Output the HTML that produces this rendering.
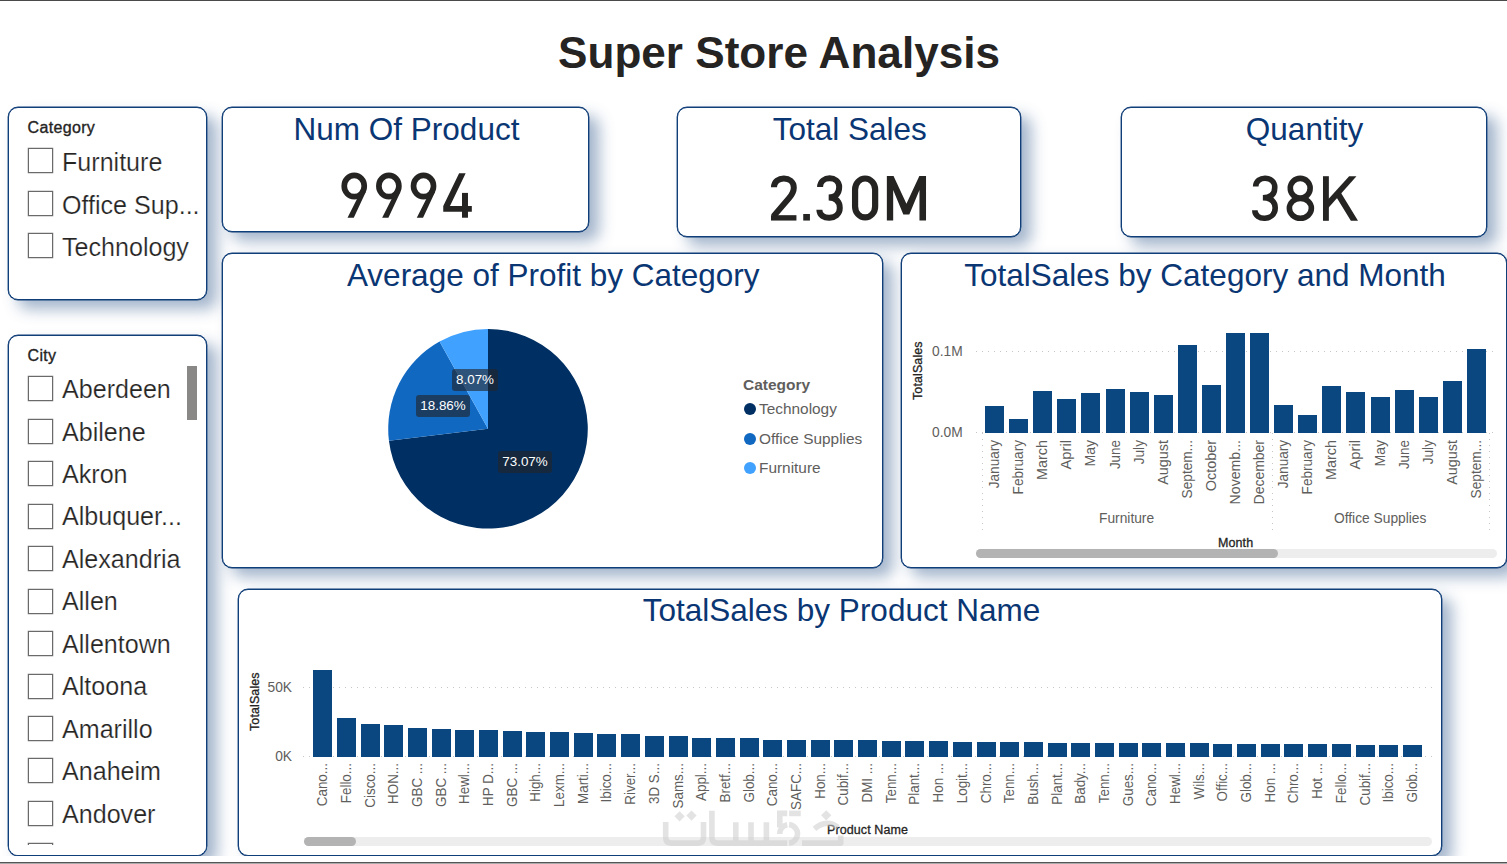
<!DOCTYPE html>
<html><head><meta charset="utf-8"><title>Super Store Analysis</title>
<style>
*{box-sizing:border-box;margin:0;padding:0}
html,body{width:1507px;height:864px;overflow:hidden;background:#fff;font-family:"Liberation Sans",sans-serif;}
#page{position:absolute;left:0;top:0;width:1507px;height:856px;overflow:hidden;background:#fff}
.topline{position:absolute;left:0;top:0;width:1507px;height:1px;background:#4a4a4a}
.botline{position:absolute;left:0;top:862px;width:1507px;height:1px;background:#555}
.botline2{position:absolute;left:0;top:863px;width:1507px;height:1px;background:#aaa}
.panel{position:absolute;background:#fff;border:1px solid #103e78;border-radius:10px;box-shadow:0 0 0 0.4px #103e78,10px 9px 15px rgba(28,74,128,0.41)}
.ttl{position:absolute;white-space:nowrap;color:#0a3673;font-size:31.5px;line-height:36px;text-align:center;left:0;right:0}
.big{position:absolute;white-space:nowrap;color:#252423;font-size:64.6px;line-height:64px;text-align:center;left:0;right:0;transform-origin:50% 50%}
.hdr{position:absolute;white-space:nowrap;color:#252423;font-size:16px;line-height:18px;-webkit-text-stroke:0.35px #252423;letter-spacing:0.35px}
.cb{position:absolute;left:18.6px;width:25.2px;height:25px;border:1px solid #6a6a6a;background:#fff;box-shadow:0 0 0 .3px #8a8a8a}
.it{position:absolute;left:53.2px;-webkit-text-stroke:0.22px #fff;white-space:nowrap;color:#252423;font-size:25.4px;line-height:28px;transform-origin:0 50%;transform:scaleX(0.988)}
.bar{position:absolute;background:#0a4680}
.grid{position:absolute;height:1px;background-image:linear-gradient(to right,#c8c6c4 1px,transparent 1px);background-size:6px 1px}
.vdot{position:absolute;width:1px;background-image:linear-gradient(to bottom,#c8c6c4 1px,transparent 1px);background-size:1px 6px}
.ax{position:absolute;white-space:nowrap;color:#605e5c;font-size:14.5px;line-height:16px;transform-origin:0 50%;transform:scaleX(0.95)}
.rot{position:absolute;white-space:nowrap;color:#605e5c;font-size:14.5px;line-height:16px;transform-origin:0 0;transform:rotate(-90deg)}
.axt{position:absolute;white-space:nowrap;color:#252423;font-size:12.5px;line-height:14px;-webkit-text-stroke:0.3px #252423;letter-spacing:0.1px}
.track{position:absolute;height:9px;border-radius:5px;background:#ededed}
.thumb{position:absolute;height:9px;border-radius:5px;background:#b3b3b3}
.lbl{position:absolute;height:22px;border-radius:3px;background:rgba(35,35,40,0.62);color:#fff;font-size:13.4px;line-height:21px;text-align:center}
.dot{position:absolute;width:12px;height:12px;border-radius:50%}
.leg{position:absolute;white-space:nowrap;color:#605e5c;font-size:15.4px;line-height:18px}
</style></head>
<body>
<div id="page">
<div style="position:absolute;left:0;width:1558px;top:28px;text-align:center;font-weight:bold;font-size:44.1px;line-height:50px;color:#252423;white-space:nowrap">Super Store Analysis</div>
<div class="panel" style="left:8px;top:107px;width:199px;height:193px">
<div class="hdr" style="left:18.5px;top:11px">Category</div>
<div class="cb" style="top:40.0px"></div><div class="it" style="top:40.2px">Furniture</div>
<div class="cb" style="top:82.5px"></div><div class="it" style="top:82.7px">Office Sup...</div>
<div class="cb" style="top:125.0px"></div><div class="it" style="top:125.2px">Technology</div>
</div>
<div class="panel" style="left:8px;top:335px;width:199px;height:521px;overflow:hidden">
<div class="hdr" style="left:18.5px;top:11px">City</div>
<div class="cb" style="top:40.2px"></div><div class="it" style="top:39.0px">Aberdeen</div>
<div class="cb" style="top:82.7px"></div><div class="it" style="top:81.5px">Abilene</div>
<div class="cb" style="top:125.1px"></div><div class="it" style="top:123.9px">Akron</div>
<div class="cb" style="top:167.6px"></div><div class="it" style="top:166.4px">Albuquer...</div>
<div class="cb" style="top:210.1px"></div><div class="it" style="top:208.9px">Alexandria</div>
<div class="cb" style="top:252.5px"></div><div class="it" style="top:251.3px">Allen</div>
<div class="cb" style="top:295.0px"></div><div class="it" style="top:293.8px">Allentown</div>
<div class="cb" style="top:337.5px"></div><div class="it" style="top:336.3px">Altoona</div>
<div class="cb" style="top:380.0px"></div><div class="it" style="top:378.8px">Amarillo</div>
<div class="cb" style="top:422.4px"></div><div class="it" style="top:421.2px">Anaheim</div>
<div class="cb" style="top:464.9px"></div><div class="it" style="top:463.7px">Andover</div>
<div class="cb" style="top:507.4px"></div><div class="it" style="top:506.2px"></div>
<div style="position:absolute;left:0;top:509px;width:197px;height:12px;background:#fff"></div>
<div style="position:absolute;left:178px;top:30px;width:10px;height:54px;background:#8a8886"></div>
</div>
<div class="panel" style="left:222px;top:107px;width:367px;height:125px">
<div class="ttl" style="top:3px;left:2px">Num Of Product</div>
<div class="big" style="top:55.6px;left:2px;transform:scaleX(0.934);color:transparent">9994</div>
</div>
<svg style="position:absolute;left:0;top:0" width="1507" height="856" viewBox="0 0 1507 856"><g transform="translate(335,165) scale(0.096219)"><ellipse cx="200" cy="219" rx="104" ry="110.5" fill="none" stroke="#252423" stroke-width="59"/><path d="M130 548H195L320 280.5L275 240L235 340Z" fill="#252423"/><g transform="translate(360,0)"><ellipse cx="200" cy="219" rx="104" ry="110.5" fill="none" stroke="#252423" stroke-width="59"/><path d="M130 548H195L320 280.5L275 240L235 340Z" fill="#252423"/></g><g transform="translate(720,0)"><ellipse cx="200" cy="219" rx="104" ry="110.5" fill="none" stroke="#252423" stroke-width="59"/><path d="M130 548H195L320 280.5L275 240L235 340Z" fill="#252423"/></g><path d="M1290 85H1358L1195 425H1422V485H1125V425Z" fill="#252423"/><rect x="1320" y="290" width="62" height="258" fill="#252423"/></g></svg>
<div class="panel" style="left:677px;top:107px;width:344px;height:130px">
<div class="ttl" style="top:3px;left:1.6px">Total Sales</div>
<div class="big" style="top:59px;left:0px;transform:scaleX(0.903);color:transparent">2.30M</div>
</div>
<svg style="position:absolute;left:0;top:0" width="1507" height="856" viewBox="0 0 1507 856"><g transform="translate(760,168) scale(0.119446)"><g fill="none" stroke="#252423" stroke-width="50"><path d="M117 162C117 62 283 62 283 165C283 200 268 222 245 250L112 405"/><path d="M503 160C503 62 663 62 663 160C663 215 630 247 575 247C640 247 668 285 668 335C668 440 497 442 497 350"/><rect x="796" y="88" width="168" height="326" rx="84" ry="92" stroke-width="52"/></g><g fill="#252423"><rect x="92" y="395" width="213" height="45"/><rect x="362" y="385" width="56" height="55"/><path d="M1062 440V68H1118L1226 300L1334 68H1390V440H1335V185L1250 390H1200L1115 185V440Z"/></g></g></svg>
<div class="panel" style="left:1121px;top:107px;width:366px;height:130px">
<div class="ttl" style="top:3px;left:1px">Quantity</div>
<div class="big" style="top:59px;left:1px;transform:scaleX(0.939);color:transparent">38K</div>
</div>
<svg style="position:absolute;left:0;top:0" width="1507" height="856" viewBox="0 0 1507 856"><g transform="translate(1240,168) scale(0.086266)"><g fill="none" stroke="#252423" stroke-width="65"><path d="M182 215C182 85 403 85 403 225C403 300 360 345 265 345C365 345 408 395 408 465C408 615 172 620 172 490"/><ellipse cx="698" cy="235" rx="115" ry="115"/><ellipse cx="700" cy="467" rx="127.5" ry="115"/></g><g fill="#252423"><rect x="962" y="95" width="68" height="517"/><path d="M1265 95H1350L1010 477.5V377Z"/><path d="M1163 276L1175 295L1368 612H1285L1125 350L1115 334Z"/></g></g></svg>
<div class="panel" style="left:222px;top:253px;width:661px;height:315px">
<div class="ttl" style="top:3px;left:1.5px">Average of Profit by Category</div>
</div>
<svg style="position:absolute;left:0;top:0" width="1507" height="856" viewBox="0 0 1507 856">
<path d="M488 428.8L488.00 329.00A99.8 99.8 0 1 1 388.93 440.87Z" fill="#003063"/>
<path d="M488 428.8L388.93 440.87A99.8 99.8 0 0 1 439.54 341.56Z" fill="#1068c1"/>
<path d="M488 428.8L439.54 341.56A99.8 99.8 0 0 1 488.00 329.00Z" fill="#40a1ff"/>
</svg>
<div class="lbl" style="left:452px;top:369px;width:46px">8.07%</div>
<div class="lbl" style="left:416px;top:395px;width:54px">18.86%</div>
<div class="lbl" style="left:498px;top:451px;width:54px">73.07%</div>
<div class="leg" style="left:743px;top:375.8px;font-weight:bold;font-size:15.5px">Category</div>
<div class="dot" style="left:744px;top:403.0px;background:#003063"></div><div class="leg" style="left:759px;top:400.1px">Technology</div>
<div class="dot" style="left:744px;top:432.7px;background:#1068c1"></div><div class="leg" style="left:759px;top:429.8px">Office Supplies</div>
<div class="dot" style="left:744px;top:462.0px;background:#40a1ff"></div><div class="leg" style="left:759px;top:459.1px">Furniture</div>
<div class="panel" style="left:901px;top:253px;width:606px;height:315px">
<div class="ttl" style="top:3px;left:0;right:0;width:606px">TotalSales by Category and Month</div>
</div>
<div class="grid" style="left:976px;top:351px;width:520px"></div>
<div class="grid" style="left:976px;top:432px;width:520px"></div>
<div class="bar" style="left:985.0px;top:406px;width:19px;height:26.5px"></div>
<div class="rot" style="left:985.8px;top:440px;transform:rotate(-90deg) scaleX(0.934) translateX(-100%)">January</div>
<div class="bar" style="left:1009.0px;top:419px;width:19px;height:13.5px"></div>
<div class="rot" style="left:1009.8px;top:440px;transform:rotate(-90deg) scaleX(0.937) translateX(-100%)">February</div>
<div class="bar" style="left:1033.0px;top:391px;width:19px;height:41.5px"></div>
<div class="rot" style="left:1033.8px;top:440px;transform:rotate(-90deg) scaleX(0.993) translateX(-100%)">March</div>
<div class="bar" style="left:1057.0px;top:399px;width:19px;height:33.5px"></div>
<div class="rot" style="left:1057.8px;top:440px;transform:rotate(-90deg) scaleX(1.02) translateX(-100%)">April</div>
<div class="bar" style="left:1081.0px;top:393px;width:19px;height:39.5px"></div>
<div class="rot" style="left:1081.8px;top:440px;transform:rotate(-90deg) scaleX(0.97) translateX(-100%)">May</div>
<div class="bar" style="left:1106.0px;top:389px;width:19px;height:43.5px"></div>
<div class="rot" style="left:1106.8px;top:440px;transform:rotate(-90deg) scaleX(0.925) translateX(-100%)">June</div>
<div class="bar" style="left:1130.0px;top:392px;width:19px;height:40.5px"></div>
<div class="rot" style="left:1130.8px;top:440px;transform:rotate(-90deg) scaleX(0.944) translateX(-100%)">July</div>
<div class="bar" style="left:1154.0px;top:395px;width:19px;height:37.5px"></div>
<div class="rot" style="left:1154.8px;top:440px;transform:rotate(-90deg) scaleX(0.99) translateX(-100%)">August</div>
<div class="bar" style="left:1178.0px;top:345px;width:19px;height:87.5px"></div>
<div class="rot" style="left:1178.8px;top:440px;transform:rotate(-90deg) scaleX(0.941) translateX(-100%)">Septem...</div>
<div class="bar" style="left:1202.0px;top:385px;width:19px;height:47.5px"></div>
<div class="rot" style="left:1202.8px;top:440px;transform:rotate(-90deg) scaleX(0.992) translateX(-100%)">October</div>
<div class="bar" style="left:1226.0px;top:333px;width:19px;height:99.5px"></div>
<div class="rot" style="left:1226.8px;top:440px;transform:rotate(-90deg) scaleX(0.974) translateX(-100%)">Novemb...</div>
<div class="bar" style="left:1250.0px;top:333px;width:19px;height:99.5px"></div>
<div class="rot" style="left:1250.8px;top:440px;transform:rotate(-90deg) scaleX(0.963) translateX(-100%)">December</div>
<div class="bar" style="left:1274.0px;top:405px;width:19px;height:27.5px"></div>
<div class="rot" style="left:1274.8px;top:440px;transform:rotate(-90deg) scaleX(0.934) translateX(-100%)">January</div>
<div class="bar" style="left:1298.0px;top:415px;width:19px;height:17.5px"></div>
<div class="rot" style="left:1298.8px;top:440px;transform:rotate(-90deg) scaleX(0.937) translateX(-100%)">February</div>
<div class="bar" style="left:1322.0px;top:386px;width:19px;height:46.5px"></div>
<div class="rot" style="left:1322.8px;top:440px;transform:rotate(-90deg) scaleX(0.993) translateX(-100%)">March</div>
<div class="bar" style="left:1346.0px;top:392px;width:19px;height:40.5px"></div>
<div class="rot" style="left:1346.8px;top:440px;transform:rotate(-90deg) scaleX(1.02) translateX(-100%)">April</div>
<div class="bar" style="left:1371.0px;top:397px;width:19px;height:35.5px"></div>
<div class="rot" style="left:1371.8px;top:440px;transform:rotate(-90deg) scaleX(0.97) translateX(-100%)">May</div>
<div class="bar" style="left:1395.0px;top:390px;width:19px;height:42.5px"></div>
<div class="rot" style="left:1395.8px;top:440px;transform:rotate(-90deg) scaleX(0.925) translateX(-100%)">June</div>
<div class="bar" style="left:1419.0px;top:397px;width:19px;height:35.5px"></div>
<div class="rot" style="left:1419.8px;top:440px;transform:rotate(-90deg) scaleX(0.944) translateX(-100%)">July</div>
<div class="bar" style="left:1443.0px;top:381px;width:19px;height:51.5px"></div>
<div class="rot" style="left:1443.8px;top:440px;transform:rotate(-90deg) scaleX(0.99) translateX(-100%)">August</div>
<div class="bar" style="left:1467.0px;top:349px;width:19px;height:83.5px"></div>
<div class="rot" style="left:1467.8px;top:440px;transform:rotate(-90deg) scaleX(0.941) translateX(-100%)">Septem...</div>
<div class="ax" style="left:932px;top:343px">0.1M</div>
<div class="ax" style="left:932px;top:424px">0.0M</div>
<div class="axt" style="left:911px;top:400px;transform-origin:0 0;transform:rotate(-90deg)">TotalSales</div>
<div class="vdot" style="left:982px;top:433px;height:98px"></div>
<div class="vdot" style="left:1272px;top:433px;height:98px"></div>
<div class="vdot" style="left:1489px;top:433px;height:98px"></div>
<div class="ax" style="left:1099px;top:510px">Furniture</div>
<div class="ax" style="left:1334px;top:510px">Office Supplies</div>
<div class="axt" style="left:1218px;top:536px">Month</div>
<div class="track" style="left:976px;top:549px;width:521px"></div>
<div class="thumb" style="left:976px;top:549px;width:302px"></div>
<div class="panel" style="left:238px;top:589px;width:1204px;height:267px">
<div class="ttl" style="top:2px;left:3px">TotalSales by Product Name</div>
</div>
<div class="grid" style="left:303px;top:687px;width:1131px"></div>
<div class="grid" style="left:303px;top:756px;width:1131px"></div>
<div class="bar" style="left:313.0px;top:670px;width:19px;height:86.5px"></div>
<div class="rot" style="left:314.0px;top:763px;transform:rotate(-90deg) scaleX(0.925) translateX(-100%)">Cano...</div>
<div class="bar" style="left:337.0px;top:718px;width:19px;height:38.5px"></div>
<div class="rot" style="left:338.0px;top:763px;transform:rotate(-90deg) scaleX(0.925) translateX(-100%)">Fello...</div>
<div class="bar" style="left:361.0px;top:724px;width:19px;height:32.5px"></div>
<div class="rot" style="left:362.0px;top:763px;transform:rotate(-90deg) scaleX(0.925) translateX(-100%)">Cisco...</div>
<div class="bar" style="left:384.0px;top:725px;width:19px;height:31.5px"></div>
<div class="rot" style="left:385.0px;top:763px;transform:rotate(-90deg) scaleX(0.925) translateX(-100%)">HON...</div>
<div class="bar" style="left:408.0px;top:728px;width:19px;height:28.5px"></div>
<div class="rot" style="left:409.0px;top:763px;transform:rotate(-90deg) scaleX(0.925) translateX(-100%)">GBC ...</div>
<div class="bar" style="left:432.0px;top:729px;width:19px;height:27.5px"></div>
<div class="rot" style="left:433.0px;top:763px;transform:rotate(-90deg) scaleX(0.925) translateX(-100%)">GBC ...</div>
<div class="bar" style="left:455.0px;top:730px;width:19px;height:26.5px"></div>
<div class="rot" style="left:456.0px;top:763px;transform:rotate(-90deg) scaleX(0.925) translateX(-100%)">Hewl...</div>
<div class="bar" style="left:479.0px;top:730px;width:19px;height:26.5px"></div>
<div class="rot" style="left:480.0px;top:763px;transform:rotate(-90deg) scaleX(0.925) translateX(-100%)">HP D...</div>
<div class="bar" style="left:503.0px;top:731px;width:19px;height:25.5px"></div>
<div class="rot" style="left:504.0px;top:763px;transform:rotate(-90deg) scaleX(0.925) translateX(-100%)">GBC ...</div>
<div class="bar" style="left:526.0px;top:732px;width:19px;height:24.5px"></div>
<div class="rot" style="left:527.0px;top:763px;transform:rotate(-90deg) scaleX(0.925) translateX(-100%)">High...</div>
<div class="bar" style="left:550.0px;top:732px;width:19px;height:24.5px"></div>
<div class="rot" style="left:551.0px;top:763px;transform:rotate(-90deg) scaleX(0.925) translateX(-100%)">Lexm...</div>
<div class="bar" style="left:574.0px;top:733px;width:19px;height:23.5px"></div>
<div class="rot" style="left:575.0px;top:763px;transform:rotate(-90deg) scaleX(0.925) translateX(-100%)">Marti...</div>
<div class="bar" style="left:597.0px;top:734px;width:19px;height:22.5px"></div>
<div class="rot" style="left:598.0px;top:763px;transform:rotate(-90deg) scaleX(0.925) translateX(-100%)">Ibico...</div>
<div class="bar" style="left:621.0px;top:734px;width:19px;height:22.5px"></div>
<div class="rot" style="left:622.0px;top:763px;transform:rotate(-90deg) scaleX(0.925) translateX(-100%)">River...</div>
<div class="bar" style="left:645.0px;top:736px;width:19px;height:20.5px"></div>
<div class="rot" style="left:646.0px;top:763px;transform:rotate(-90deg) scaleX(0.925) translateX(-100%)">3D S...</div>
<div class="bar" style="left:669.0px;top:736px;width:19px;height:20.5px"></div>
<div class="rot" style="left:670.0px;top:763px;transform:rotate(-90deg) scaleX(0.925) translateX(-100%)">Sams...</div>
<div class="bar" style="left:692.0px;top:738px;width:19px;height:18.5px"></div>
<div class="rot" style="left:693.0px;top:763px;transform:rotate(-90deg) scaleX(0.925) translateX(-100%)">Appl...</div>
<div class="bar" style="left:716.0px;top:738px;width:19px;height:18.5px"></div>
<div class="rot" style="left:717.0px;top:763px;transform:rotate(-90deg) scaleX(0.925) translateX(-100%)">Bretf...</div>
<div class="bar" style="left:740.0px;top:738px;width:19px;height:18.5px"></div>
<div class="rot" style="left:741.0px;top:763px;transform:rotate(-90deg) scaleX(0.925) translateX(-100%)">Glob...</div>
<div class="bar" style="left:763.0px;top:740px;width:19px;height:16.5px"></div>
<div class="rot" style="left:764.0px;top:763px;transform:rotate(-90deg) scaleX(0.925) translateX(-100%)">Cano...</div>
<div class="bar" style="left:787.0px;top:740px;width:19px;height:16.5px"></div>
<div class="rot" style="left:788.0px;top:763px;transform:rotate(-90deg) scaleX(0.925) translateX(-100%)">SAFC...</div>
<div class="bar" style="left:811.0px;top:740px;width:19px;height:16.5px"></div>
<div class="rot" style="left:812.0px;top:763px;transform:rotate(-90deg) scaleX(0.925) translateX(-100%)">Hon...</div>
<div class="bar" style="left:834.0px;top:740px;width:19px;height:16.5px"></div>
<div class="rot" style="left:835.0px;top:763px;transform:rotate(-90deg) scaleX(0.925) translateX(-100%)">Cubif...</div>
<div class="bar" style="left:858.0px;top:740px;width:19px;height:16.5px"></div>
<div class="rot" style="left:859.0px;top:763px;transform:rotate(-90deg) scaleX(0.925) translateX(-100%)">DMI ...</div>
<div class="bar" style="left:882.0px;top:741px;width:19px;height:15.5px"></div>
<div class="rot" style="left:883.0px;top:763px;transform:rotate(-90deg) scaleX(0.925) translateX(-100%)">Tenn...</div>
<div class="bar" style="left:905.0px;top:741px;width:19px;height:15.5px"></div>
<div class="rot" style="left:906.0px;top:763px;transform:rotate(-90deg) scaleX(0.925) translateX(-100%)">Plant...</div>
<div class="bar" style="left:929.0px;top:741px;width:19px;height:15.5px"></div>
<div class="rot" style="left:930.0px;top:763px;transform:rotate(-90deg) scaleX(0.925) translateX(-100%)">Hon ...</div>
<div class="bar" style="left:953.0px;top:742px;width:19px;height:14.5px"></div>
<div class="rot" style="left:954.0px;top:763px;transform:rotate(-90deg) scaleX(0.925) translateX(-100%)">Logit...</div>
<div class="bar" style="left:977.0px;top:742px;width:19px;height:14.5px"></div>
<div class="rot" style="left:978.0px;top:763px;transform:rotate(-90deg) scaleX(0.925) translateX(-100%)">Chro...</div>
<div class="bar" style="left:1000.0px;top:742px;width:19px;height:14.5px"></div>
<div class="rot" style="left:1001.0px;top:763px;transform:rotate(-90deg) scaleX(0.925) translateX(-100%)">Tenn...</div>
<div class="bar" style="left:1024.0px;top:742px;width:19px;height:14.5px"></div>
<div class="rot" style="left:1025.0px;top:763px;transform:rotate(-90deg) scaleX(0.925) translateX(-100%)">Bush...</div>
<div class="bar" style="left:1048.0px;top:743px;width:19px;height:13.5px"></div>
<div class="rot" style="left:1049.0px;top:763px;transform:rotate(-90deg) scaleX(0.925) translateX(-100%)">Plant...</div>
<div class="bar" style="left:1071.0px;top:743px;width:19px;height:13.5px"></div>
<div class="rot" style="left:1072.0px;top:763px;transform:rotate(-90deg) scaleX(0.925) translateX(-100%)">Bady...</div>
<div class="bar" style="left:1095.0px;top:743px;width:19px;height:13.5px"></div>
<div class="rot" style="left:1096.0px;top:763px;transform:rotate(-90deg) scaleX(0.925) translateX(-100%)">Tenn...</div>
<div class="bar" style="left:1119.0px;top:743px;width:19px;height:13.5px"></div>
<div class="rot" style="left:1120.0px;top:763px;transform:rotate(-90deg) scaleX(0.925) translateX(-100%)">Gues...</div>
<div class="bar" style="left:1142.0px;top:743px;width:19px;height:13.5px"></div>
<div class="rot" style="left:1143.0px;top:763px;transform:rotate(-90deg) scaleX(0.925) translateX(-100%)">Cano...</div>
<div class="bar" style="left:1166.0px;top:743px;width:19px;height:13.5px"></div>
<div class="rot" style="left:1167.0px;top:763px;transform:rotate(-90deg) scaleX(0.925) translateX(-100%)">Hewl...</div>
<div class="bar" style="left:1190.0px;top:743px;width:19px;height:13.5px"></div>
<div class="rot" style="left:1191.0px;top:763px;transform:rotate(-90deg) scaleX(0.925) translateX(-100%)">Wils...</div>
<div class="bar" style="left:1213.0px;top:744px;width:19px;height:12.5px"></div>
<div class="rot" style="left:1214.0px;top:763px;transform:rotate(-90deg) scaleX(0.925) translateX(-100%)">Offic...</div>
<div class="bar" style="left:1237.0px;top:744px;width:19px;height:12.5px"></div>
<div class="rot" style="left:1238.0px;top:763px;transform:rotate(-90deg) scaleX(0.925) translateX(-100%)">Glob...</div>
<div class="bar" style="left:1261.0px;top:744px;width:19px;height:12.5px"></div>
<div class="rot" style="left:1262.0px;top:763px;transform:rotate(-90deg) scaleX(0.925) translateX(-100%)">Hon ...</div>
<div class="bar" style="left:1284.0px;top:744px;width:19px;height:12.5px"></div>
<div class="rot" style="left:1285.0px;top:763px;transform:rotate(-90deg) scaleX(0.925) translateX(-100%)">Chro...</div>
<div class="bar" style="left:1308.0px;top:744px;width:19px;height:12.5px"></div>
<div class="rot" style="left:1309.0px;top:763px;transform:rotate(-90deg) scaleX(0.925) translateX(-100%)">Hot ...</div>
<div class="bar" style="left:1332.0px;top:744px;width:19px;height:12.5px"></div>
<div class="rot" style="left:1333.0px;top:763px;transform:rotate(-90deg) scaleX(0.925) translateX(-100%)">Fello...</div>
<div class="bar" style="left:1356.0px;top:745px;width:19px;height:11.5px"></div>
<div class="rot" style="left:1357.0px;top:763px;transform:rotate(-90deg) scaleX(0.925) translateX(-100%)">Cubif...</div>
<div class="bar" style="left:1379.0px;top:745px;width:19px;height:11.5px"></div>
<div class="rot" style="left:1380.0px;top:763px;transform:rotate(-90deg) scaleX(0.925) translateX(-100%)">Ibico...</div>
<div class="bar" style="left:1403.0px;top:745px;width:19px;height:11.5px"></div>
<div class="rot" style="left:1404.0px;top:763px;transform:rotate(-90deg) scaleX(0.925) translateX(-100%)">Glob...</div>
<div class="ax" style="left:266px;top:679px;width:26px;text-align:right;transform-origin:100% 50%">50K</div>
<div class="ax" style="left:266px;top:748px;width:26px;text-align:right;transform-origin:100% 50%">0K</div>
<div class="axt" style="left:248px;top:731px;transform-origin:0 0;transform:rotate(-90deg)">TotalSales</div>
<div class="axt" style="left:827px;top:822.8px">Product Name</div>
<div class="track" style="left:304px;top:836.5px;width:1128px"></div>
<div class="thumb" style="left:304px;top:836.5px;width:52px"></div>
<svg style="position:absolute;left:0;top:0;pointer-events:none" width="1507" height="856" viewBox="0 0 1507 856"><g opacity="0.556" fill="none" stroke="#cecece" stroke-width="5.6" stroke-linejoin="round">
<path d="M665.7 822V837.6Q665.7 843.1 671.2 843.1H698Q703.5 843.1 703.5 837.6V822"/>
<path d="M711.9 810.8V837.6Q711.9 843.1 717.4 843.1H787.2"/>
<path d="M735.8 822.3V843M751 822.3V843M766.4 822.3V843"/>
<path d="M779.8 810.6V827.5M777 813.4H787.2"/>
<path d="M779.7 833.9A9.4 9.4 0 0 1 787.2 824.7"/>
<path d="M789.1 813.4H800.8"/>
<path d="M789.1 824.5A9.4 9.4 0 0 1 789.1 843.2"/>
<path d="M802 843.1H840.7V835.5"/>
<path d="M814.5 828.8Q826 819 838 827.2"/>
<g stroke="none" fill="#cecece"><path d="M679.6 811.2l5.1 5.1-5.1 5.1-5.1-5.1zM691.5 810.5l5.1 5.1-5.1 5.1-5.1-5.1zM826.2 810.2l5.1 5.1-5.1 5.1-5.1-5.1z"/></g>
</g></svg>
</div>
<div class="topline"></div><div class="botline"></div><div class="botline2"></div>
</body></html>
